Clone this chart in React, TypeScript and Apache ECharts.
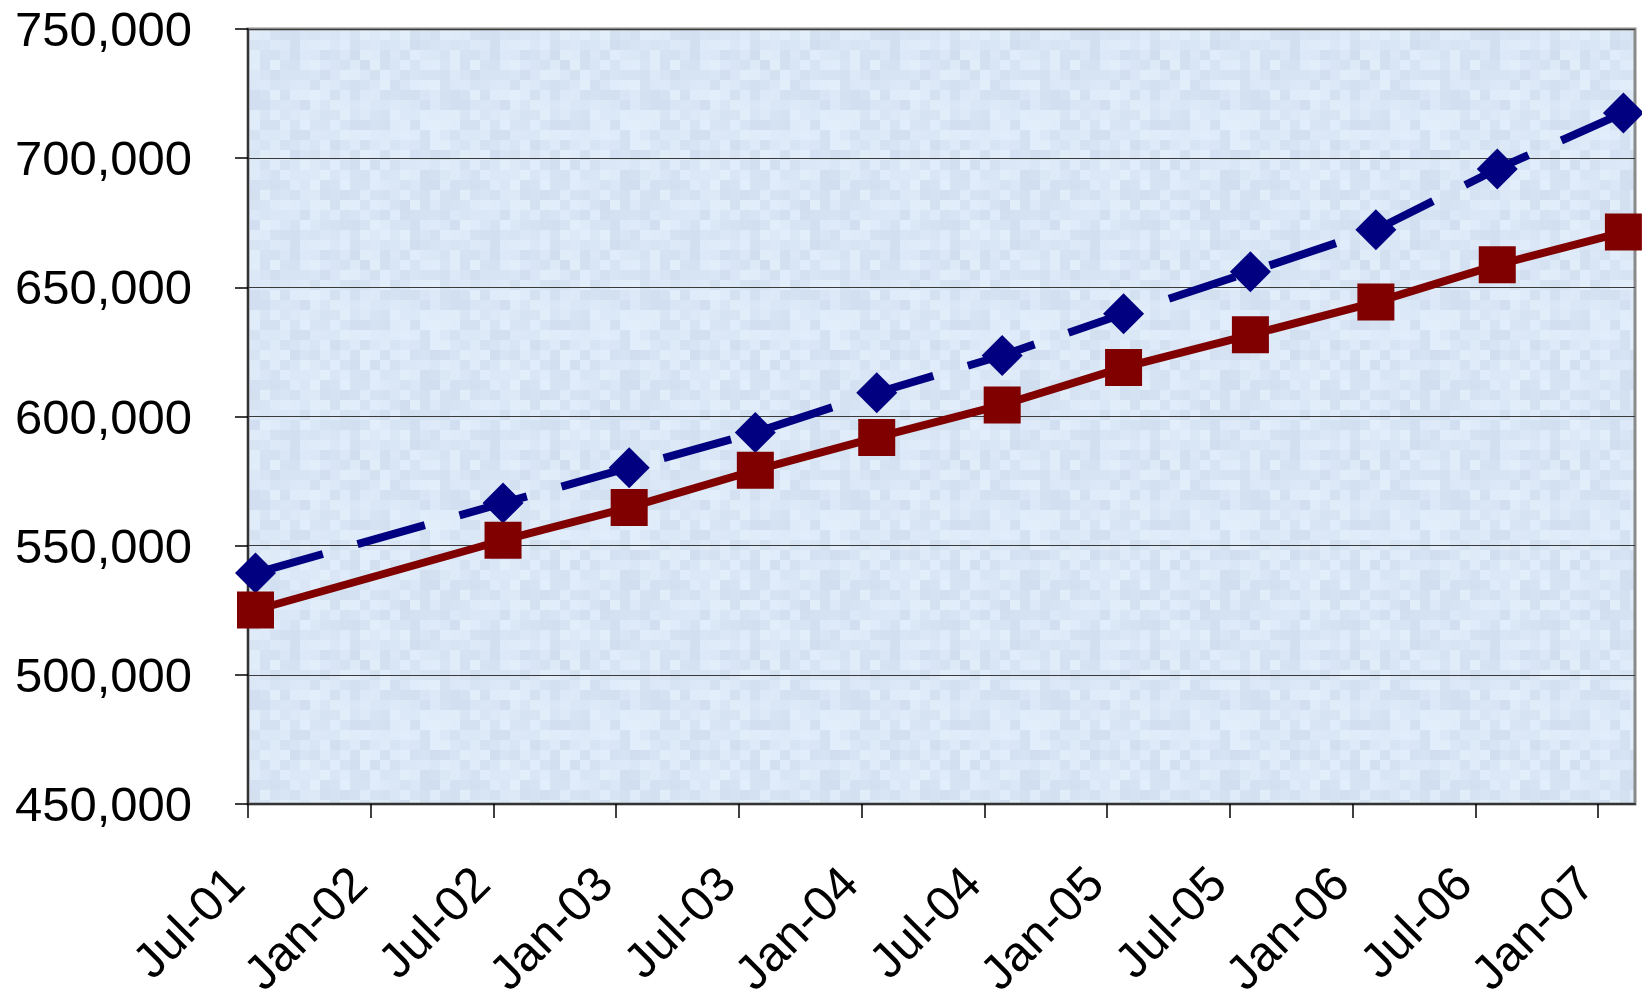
import React, { useEffect, useRef } from "react";
import * as echarts from "echarts";

// ---- data ----
const AXIS_START = "2001-07-31"; // date of the first x tick (Jul-01)
const TICK_DAYS = 180; // spacing of x ticks in days
const AXIS_END_DAYS = 2034; // right end of the x axis, days after AXIS_START
const tickLabels = [
  "Jul-01", "Jan-02", "Jul-02", "Jan-03", "Jul-03", "Jan-04",
  "Jul-04", "Jan-05", "Jul-05", "Jan-06", "Jul-06", "Jan-07",
];
const pointDates = [
  "2001-08-11", "2002-08-09", "2003-02-10", "2003-08-14", "2004-02-08", "2004-08-10",
  "2005-02-04", "2005-08-09", "2006-02-09", "2006-08-06", "2007-02-07",
];
const blueValues = [
  539400, 566500, 580200, 593800, 609200, 623600,
  639800, 656000, 672300, 695800, 717500,
];
const redValues = [
  525100, 552100, 564800, 579200, 591900, 604500,
  619000, 631600, 644300, 658700, 671400,
];
const Y_MIN = 450000;
const Y_MAX = 750000;
const Y_STEP = 50000;

const dayMs = 86400000;
const toDays = (s: string) =>
  Math.round((Date.parse(s + "T00:00:00Z") - Date.parse(AXIS_START + "T00:00:00Z")) / dayMs);

// decorative mottled texture for the plot background (deterministic hash, not data)
function makeTexture(): HTMLCanvasElement | null {
  try {
    const size = 200;
    const cell = 10;
    const c = document.createElement("canvas");
    c.width = size;
    c.height = size;
    const ctx = c.getContext("2d");
    if (!ctx) return null;
    const hash = (x: number, y: number) => {
      let h = (x * 374761393 + y * 668265263) | 0;
      h = (h ^ (h >>> 13)) * 1274126177;
      h = h ^ (h >>> 16);
      return ((h >>> 0) % 1000) / 1000;
    };
    for (let y = 0; y < size; y += cell) {
      for (let x = 0; x < size; x += cell) {
        const t = hash(x / cell, y / cell);
        const r = Math.round(208 + t * 19);
        const g = Math.round(222 + t * 16);
        const b = Math.round(239 + t * 12);
        ctx.fillStyle = `rgb(${r},${g},${b})`;
        ctx.fillRect(x, y, cell, cell);
      }
    }
    return c;
  } catch (e) {
    return null;
  }
}

export default function App() {
  const ref = useRef<HTMLDivElement>(null);
  useEffect(() => {
    if (!ref.current) return;
    const chart = echarts.init(ref.current, null, { renderer: "svg" });
    const xs = pointDates.map(toDays);
    const tickVals = tickLabels.map((_, i) => i * TICK_DAYS);
    const font = "'Liberation Sans', Arial, sans-serif";
    const tex = makeTexture();
    const gridBg: any = tex ? { image: tex.toDataURL(), repeat: "repeat" } : "#dae6f4";
    chart.setOption({
      animation: false,
      backgroundColor: "#ffffff",
      grid: {
        left: 248,
        top: 29,
        right: 7,
        bottom: 197,
        containLabel: false,
        outerBoundsMode: "none",
        show: true,
        backgroundColor: gridBg,
        borderColor: "#8a8a8a",
        borderWidth: 3,
      },
      xAxis: {
        type: "value",
        min: 0,
        max: AXIS_END_DAYS,
        interval: TICK_DAYS,
        splitLine: { show: false },
        axisLine: { show: true, onZero: false, lineStyle: { color: "#333", width: 2 } },
        axisTick: {
          show: true,
          length: 14,
          customValues: tickVals,
          lineStyle: { color: "#000", width: 1.5 },
        },
        axisLabel: {
          customValues: tickVals,
          rotate: 45,
          margin: 58,
          padding: [0, 18, 0, 0],
          fontSize: 49,
          lineHeight: 49,
          fontFamily: font,
          color: "#000",
          formatter: (v: number) => {
            const i = Math.round(v / TICK_DAYS);
            return Math.abs(v - i * TICK_DAYS) < 0.5 && tickLabels[i] ? tickLabels[i] : "";
          },
        },
      },
      yAxis: {
        type: "value",
        min: Y_MIN,
        max: Y_MAX,
        interval: Y_STEP,
        axisLine: { show: true, lineStyle: { color: "#333", width: 2 } },
        axisTick: { show: true, length: 13, lineStyle: { color: "#000", width: 1.5 } },
        splitLine: { show: true, lineStyle: { color: "#3a3a3a", width: 1.2 } },
        axisLabel: {
          margin: 56,
          fontSize: 49,
          fontFamily: font,
          color: "#000",
          padding: [0, 0, 8, 0],
          formatter: (v: number) => v.toLocaleString("en-US"),
        },
      },
      series: [
        {
          name: "Blue",
          type: "line",
          data: xs.map((x, i) => [x, blueValues[i]]),
          symbol: "diamond",
          symbolSize: 41,
          clip: false,
          lineStyle: { color: "#000080", width: 8, type: [70, 36], cap: "butt" },
          itemStyle: { color: "#000080" },
          z: 3,
        },
        {
          name: "Red",
          type: "line",
          data: xs.map((x, i) => [x, redValues[i]]),
          symbol: "rect",
          symbolSize: 37,
          clip: false,
          lineStyle: { color: "#800000", width: 8 },
          itemStyle: { color: "#800000" },
          z: 4,
        },
      ],
    });
    return () => chart.dispose();
  }, []);
  return (
    <div
      ref={ref}
      style={{ position: "fixed", left: 0, top: 0, width: 1642, height: 1001, background: "#fff" }}
    />
  );
}
